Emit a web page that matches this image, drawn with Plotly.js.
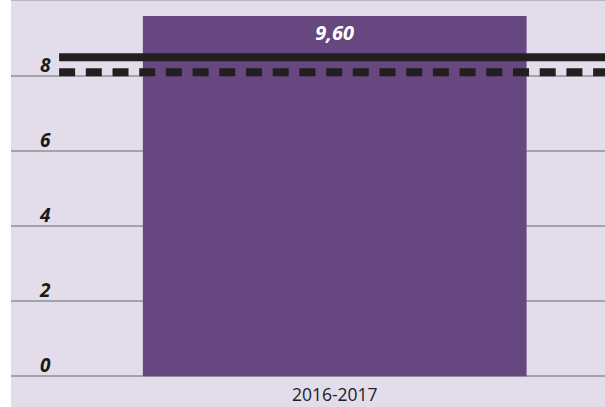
<!DOCTYPE html>
<html>
<head>
<meta charset="utf-8">
<script src="https://cdn.plot.ly/plotly-3.0.1.min.js"></script>
<style>
  body { margin: 0; background: #ffffff; }
  #plot { width: 605px; height: 407px; }
</style>
</head>
<body>
<div id="plot"></div>
<script>
// Chart data
let seasons = ["2016-2017"]
let values = [9.6]
let solidLevel = [8.5, 8.5]
let dashedLevel = [8.1, 8.1]
let lineSpan = [0.081, 1]
let yTicks = [0, 2, 4, 6, 8]

let labelFont = {family: "Open Sans, sans-serif", size: 19, color: "#1a1a1a", weight: "bold", style: "italic"}

// Bar for the season
let trace1 = {
  x: seasons,
  y: values,
  type: "bar",
  width: 0.646,
  marker: {color: "#67477f"},
  text: values.map(v => v.toFixed(2).replace(".", ",")),
  textposition: "inside",
  insidetextanchor: "end",
  textfont: {family: "Open Sans, sans-serif", size: 20, color: "#ffffff", weight: "bold", style: "italic"},
  hoverinfo: "skip"
};

// Solid reference line
let trace2 = {
  x: lineSpan,
  y: solidLevel,
  xaxis: "x2",
  mode: "lines",
  line: {color: "#231f20", width: 8},
  hoverinfo: "skip"
};

// Dashed reference line
let trace3 = {
  x: lineSpan,
  y: dashedLevel,
  xaxis: "x2",
  mode: "lines",
  line: {color: "#231f20", width: 8, dash: "16px,10.7px"},
  hoverinfo: "skip"
};

let data = [trace1, trace2, trace3];

let layout = {
  width: 605,
  height: 407,
  margin: {l: 11, r: 0, t: 1, b: 0},
  paper_bgcolor: "#ffffff",
  plot_bgcolor: "#e3dcea",
  showlegend: false,
  xaxis: {
    type: "category",
    range: [-0.545, 0.455],
    showgrid: false,
    zeroline: false,
    ticks: "",
    ticklabelposition: "inside",
    ticklabelstandoff: 0,
    tickfont: {family: "Open Sans, sans-serif", size: 17.5, color: "#222222"},
    fixedrange: true
  },
  xaxis2: {
    overlaying: "x",
    side: "top",
    range: [0, 1],
    showgrid: false,
    zeroline: false,
    showticklabels: false,
    showline: true,
    linecolor: "#b8b4bc",
    linewidth: 2
  },
  yaxis: {
    range: [-0.82, 10],
    tickvals: yTicks,
    ticktext: yTicks.map(String),
    showgrid: true,
    gridcolor: "#a6a3a8",
    gridwidth: 1.5,
    zeroline: true,
    zerolinecolor: "#a6a3a8",
    zerolinewidth: 2,
    ticks: "",
    ticklabelposition: "inside",
    ticklabelstandoff: 26,
    ticklabelshift: -11,
    tickfont: labelFont,
    fixedrange: true
  }
};

Plotly.newPlot("plot", data, layout, {displayModeBar: false, staticPlot: true});
</script>
</body>
</html>
